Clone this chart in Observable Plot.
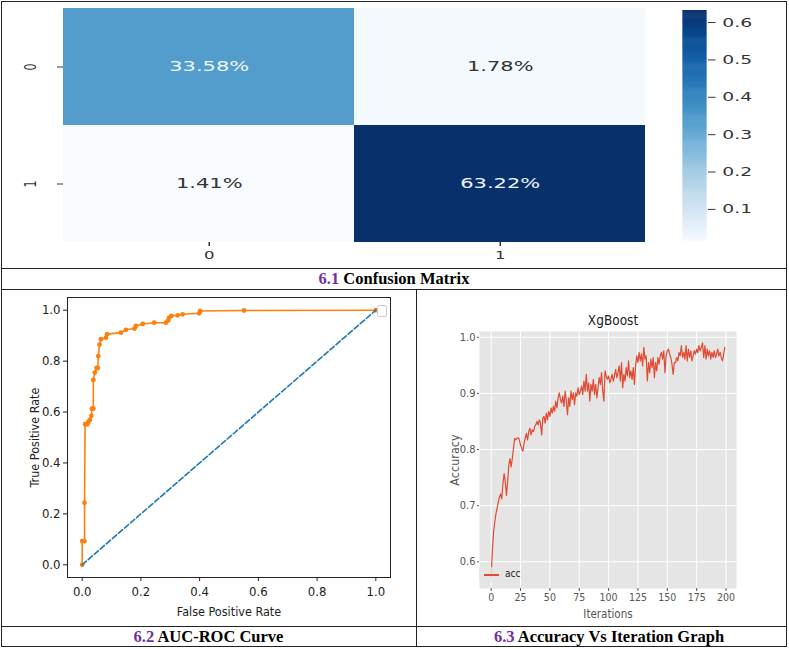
<!DOCTYPE html>
<html>
<head>
<meta charset="utf-8">
<script src="https://cdn.jsdelivr.net/npm/d3@7"></script>
<script src="https://cdn.jsdelivr.net/npm/@observablehq/plot@0.6"></script>
<style>
  body { margin: 0; padding: 0; background: #fff; }
  .page { position: relative; width: 789px; height: 649px; overflow: hidden; background: #fff; }
  .abs { position: absolute; }
  .hl { position: absolute; height: 0; border-top: 1.3px solid #222; }
  .vl { position: absolute; width: 0; border-left: 1.3px solid #222; }
  .cap { position: absolute; height: 20px; line-height: 20px; text-align: center; font: bold 16.5px "Liberation Serif", "Times New Roman", serif; color: #000; box-sizing: border-box; }
  .cap span { color: #7030a0; }
  .stretch svg { transform: scaleX(1.5); transform-origin: 0 0; overflow: visible; }
  .legend { position: absolute; left: 479px; top: 567px; width: 40px; height: 16px; background: rgba(229,229,229,0.85); border-radius: 3px; font: 10px "DejaVu Sans Condensed", "DejaVu Sans", sans-serif; font-stretch: condensed; color: #222; }
  .legend i { position: absolute; left: 5px; top: 7px; width: 15px; height: 0; border-top: 2px solid #e24a33; }
  .legend b { position: absolute; left: 26px; top: 1px; font-weight: normal; }
  .emptybox { position: absolute; left: 377px; top: 305px; width: 8px; height: 10px; border: 1px solid #ccc; border-radius: 2px; background: #fff; }
</style>
</head>
<body>
<div class="page">
  <div class="abs stretch" id="cm" style="left:0;top:0;width:440px;"></div>
  <div class="abs stretch" id="cbar" style="left:0;top:0;width:526px;"></div>
  <div class="abs" id="roc" style="left:0;top:289px;width:416px;"></div>
  <div class="emptybox"></div>
  <div class="abs" id="acc" style="left:417px;top:289px;width:370px;"></div>
  <div class="legend"><i></i><b>acc</b></div>

  <div class="abs" style="left:1px;top:1px;width:786px;height:646px;border:1.3px solid #222;box-sizing:border-box;"></div>
  <div class="hl" style="left:1px;top:268px;width:786px;"></div>
  <div class="hl" style="left:1px;top:289px;width:786px;"></div>
  <div class="hl" style="left:1px;top:626px;width:786px;"></div>
  <div class="vl" style="left:416px;top:289px;height:358px;"></div>

  <div class="cap" style="left:1px;top:269px;width:786px;"><span>6.1</span> Confusion Matrix</div>
  <div class="cap" style="left:1px;top:627px;width:415px;"><span>6.2</span> AUC-ROC Curve</div>
  <div class="cap" style="left:417px;top:627px;width:370px;padding-left:14px;"><span>6.3</span> Accuracy Vs Iteration Graph</div>
</div>
<script>
  // confusion matrix (share of all samples)
  const classLabels = ["0", "1"]
  const cmActual = ["0", "0", "1", "1"]
  const cmPredicted = ["0", "1", "0", "1"]
  const cmShare = [0.3358, 0.0178, 0.0141, 0.6322]
  const cbTicks = [0.1, 0.2, 0.3, 0.4, 0.5, 0.6]

  // ROC curve points
  const rocFpr = [0, 0, 0.008, 0.008, 0.01, 0.017, 0.021, 0.026, 0.031, 0.033, 0.038, 0.038, 0.043, 0.049, 0.053, 0.055, 0.059, 0.064, 0.081, 0.085, 0.132, 0.149, 0.178, 0.183, 0.206, 0.245, 0.285, 0.293, 0.296, 0.304, 0.325, 0.342, 0.398, 0.402, 0.551, 1]
  const rocTpr = [0, 0.093, 0.093, 0.244, 0.552, 0.552, 0.561, 0.569, 0.585, 0.613, 0.613, 0.726, 0.755, 0.773, 0.773, 0.82, 0.865, 0.886, 0.892, 0.906, 0.912, 0.923, 0.928, 0.938, 0.946, 0.951, 0.951, 0.96, 0.97, 0.978, 0.98, 0.984, 0.988, 0.997, 0.999, 1]
  const chanceFpr = [0, 1]
  const chanceTpr = [0, 1]
  const rateTicks = [0, 0.2, 0.4, 0.6, 0.8, 1]

  // XgBoost accuracy per iteration (0..199)
  const accuracy = [
    0.574, 0.620, 0.652, 0.670, 0.685, 0.695, 0.706, 0.715, 0.721, 0.712,
    0.739, 0.757, 0.742, 0.718, 0.742, 0.772, 0.784, 0.769, 0.784, 0.802,
    0.820, 0.817, 0.820, 0.821, 0.817, 0.808, 0.802, 0.797, 0.811, 0.820,
    0.829, 0.817, 0.832, 0.838, 0.826, 0.835, 0.832, 0.841, 0.844, 0.850,
    0.844, 0.853, 0.847, 0.826, 0.856, 0.859, 0.847, 0.865, 0.853, 0.868,
    0.859, 0.874, 0.865, 0.877, 0.868, 0.886, 0.874, 0.892, 0.901, 0.889,
    0.883, 0.895, 0.877, 0.904, 0.886, 0.862, 0.892, 0.877, 0.904, 0.889,
    0.901, 0.880, 0.901, 0.895, 0.910, 0.898, 0.904, 0.913, 0.898, 0.922,
    0.904, 0.934, 0.904, 0.919, 0.886, 0.916, 0.904, 0.925, 0.898, 0.916,
    0.892, 0.910, 0.928, 0.916, 0.937, 0.904, 0.886, 0.940, 0.931, 0.925,
    0.931, 0.919, 0.925, 0.934, 0.922, 0.931, 0.943, 0.928, 0.937, 0.949,
    0.922, 0.955, 0.910, 0.934, 0.922, 0.946, 0.931, 0.958, 0.928, 0.940,
    0.925, 0.946, 0.916, 0.949, 0.967, 0.955, 0.973, 0.958, 0.970, 0.949,
    0.982, 0.961, 0.967, 0.922, 0.955, 0.937, 0.961, 0.946, 0.964, 0.928,
    0.955, 0.940, 0.964, 0.952, 0.967, 0.973, 0.961, 0.976, 0.937, 0.967,
    0.976, 0.979, 0.970, 0.964, 0.952, 0.934, 0.955, 0.955, 0.964, 0.958,
    0.973, 0.967, 0.985, 0.964, 0.973, 0.961, 0.985, 0.958, 0.979, 0.964,
    0.976, 0.958, 0.967, 0.976, 0.970, 0.979, 0.973, 0.985, 0.976, 0.982,
    0.990, 0.964, 0.985, 0.961, 0.979, 0.967, 0.976, 0.961, 0.973, 0.964,
    0.976, 0.964, 0.970, 0.979, 0.967, 0.973, 0.964, 0.958, 0.970, 0.982
  ]
  const iterTicks = [0, 25, 50, 75, 100, 125, 150, 175, 200]
  const accTicks = [0.6, 0.7, 0.8, 0.9, 1.0]

  const cells = cmShare.map((v, i) => ({row: cmActual[i], col: cmPredicted[i], value: v}))
  const vmin = d3.min(cmShare), vmax = d3.max(cmShare)
  const pct = v => (v * 100).toFixed(2) + "%"
  // the source image is a bit more saturated than the plain blues ramp
  const colorOpts = {type: "linear", domain: [vmin, vmax], interpolate: () => t => d3.interpolateBlues(Math.pow(t, 0.85))}
  const sans = {fontFamily: "'DejaVu Sans', sans-serif", background: "transparent", overflow: "visible"}
  const narrow = {fontFamily: "'DejaVu Sans Condensed', 'DejaVu Sans', sans-serif", fontStretch: "condensed", background: "transparent", overflow: "visible"}
  const centered = {textAnchor: "middle", lineAnchor: "middle"}

  // heatmap (drawn narrow, stretched by css like the source image)
  const cmChart = Plot.plot({
    width: 440, height: 268,
    marginLeft: 42, marginRight: 10, marginTop: 8, marginBottom: 26,
    style: {...sans, fontSize: "11px"},
    x: {domain: classLabels, padding: 0, label: null},
    y: {domain: classLabels, padding: 0, label: null},
    color: colorOpts,
    marks: [
      Plot.cell(cells, {x: "col", y: "row", fill: "value", inset: 0}),
      Plot.text(cells.filter(d => d.value > 0.3), {x: "col", y: "row", text: d => pct(d.value), fill: "#eef5fc", fontSize: 14}),
      Plot.text(cells.filter(d => d.value <= 0.3), {x: "col", y: "row", text: d => pct(d.value), fill: "#333", fontSize: 14}),
      Plot.axisX({tickSize: 4, tickPadding: 5, color: "#333", label: null}),
      Plot.axisY({tickSize: 4, tickFormat: () => "", color: "#333", label: null}),
      Plot.text(classLabels, {y: d => d, frameAnchor: "left", dx: -22, rotate: -90, fill: "#333", fontSize: 11, ...centered})
    ]
  })
  document.querySelector("#cm").append(cmChart)

  // colorbar
  const cbN = 240
  const cbStep = (vmax - vmin) / cbN
  const cbValues = d3.range(cbN).map(i => vmin + i * cbStep)
  const cbChart = Plot.plot({
    width: 526, height: 268,
    marginLeft: 455, marginRight: 55, marginTop: 10, marginBottom: 27,
    style: {...sans, fontSize: "12.5px"},
    x: {domain: [0, 1], axis: null},
    y: {domain: [vmin, vmax], axis: null},
    color: colorOpts,
    marks: [
      Plot.rect(cbValues, {x1: () => 0, x2: () => 1, y1: d => d, y2: d => Math.min(vmax, d + cbStep * 1.6), fill: d => d}),
      Plot.axisY({anchor: "right", ticks: cbTicks, tickFormat: d3.format(".1f"), tickSize: 5, tickPadding: 5, color: "#333", label: null})
    ]
  })
  document.querySelector("#cbar").append(cbChart)

  // ROC curve
  const roc = rocFpr.map((f, i) => ({fpr: f, tpr: rocTpr[i]}))
  const chance = chanceFpr.map((f, i) => ({fpr: f, tpr: chanceTpr[i]}))
  const rocChart = Plot.plot({
    width: 416, height: 337,
    marginLeft: 67, marginRight: 26, marginTop: 8, marginBottom: 49,
    style: {...narrow, fontSize: "13px", color: "#222"},
    x: {domain: [-0.05, 1.05]},
    y: {domain: [-0.05, 1.05]},
    marks: [
      Plot.frame({stroke: "#222"}),
      Plot.line(roc, {x: "fpr", y: "tpr", stroke: "#ff7f0e", strokeWidth: 1.6}),
      Plot.dot(roc, {x: "fpr", y: "tpr", r: 2.4, fill: "#ff7f0e"}),
      Plot.line(chance, {x: "fpr", y: "tpr", stroke: "#1f77b4", strokeWidth: 1.6, strokeDasharray: "5.5,2.5"}),
      Plot.axisX({ticks: rateTicks, tickFormat: d3.format(".1f"), tickSize: 4, tickPadding: 5, label: null}),
      Plot.axisY({ticks: rateTicks, tickFormat: d3.format(".1f"), tickSize: 4, tickPadding: 3, label: null}),
      Plot.text(["False Positive Rate"], {frameAnchor: "bottom", dy: 34, fontSize: 12.5, fill: "#222", ...centered}),
      Plot.text(["True Positive Rate"], {frameAnchor: "left", dx: -33, rotate: -90, fontSize: 12.5, fill: "#222", ...centered})
    ]
  })
  document.querySelector("#roc").append(rocChart)

  // accuracy vs iteration (ggplot style)
  const accChart = Plot.plot({
    width: 370, height: 337,
    marginLeft: 62, marginRight: 51, marginTop: 42, marginBottom: 38,
    style: {...narrow, fontSize: "11px", color: "#555"},
    x: {domain: [-9.95, 208.95]},
    y: {domain: [0.5524, 1.0103]},
    marks: [
      Plot.frame({fill: "#e5e5e5", stroke: null}),
      Plot.gridX(iterTicks, {stroke: "white", strokeOpacity: 1, strokeWidth: 1}),
      Plot.gridY(accTicks, {stroke: "white", strokeOpacity: 1, strokeWidth: 1}),
      Plot.line(accuracy, {x: (d, i) => i, y: d => d, stroke: "#e24a33", strokeWidth: 1.2}),
      Plot.axisX({ticks: iterTicks, tickSize: 3, tickPadding: 2.5, fontSize: 10.5, color: "#555", label: null}),
      Plot.axisY({ticks: accTicks, tickFormat: d3.format(".1f"), tickSize: 2, tickPadding: 2, color: "#555", label: null}),
      Plot.text(["Iterations"], {frameAnchor: "bottom", dy: 26, fontSize: 11.5, fill: "#555", ...centered}),
      Plot.text(["Accuracy"], {frameAnchor: "left", dx: -25, rotate: -90, fontSize: 12.5, fill: "#555", ...centered}),
      Plot.text(["XgBoost"], {frameAnchor: "top", dx: 5, dy: -11, fontSize: 13.5, fill: "#222", ...centered})
    ]
  })
  document.querySelector("#acc").append(accChart)
</script>
</body>
</html>
